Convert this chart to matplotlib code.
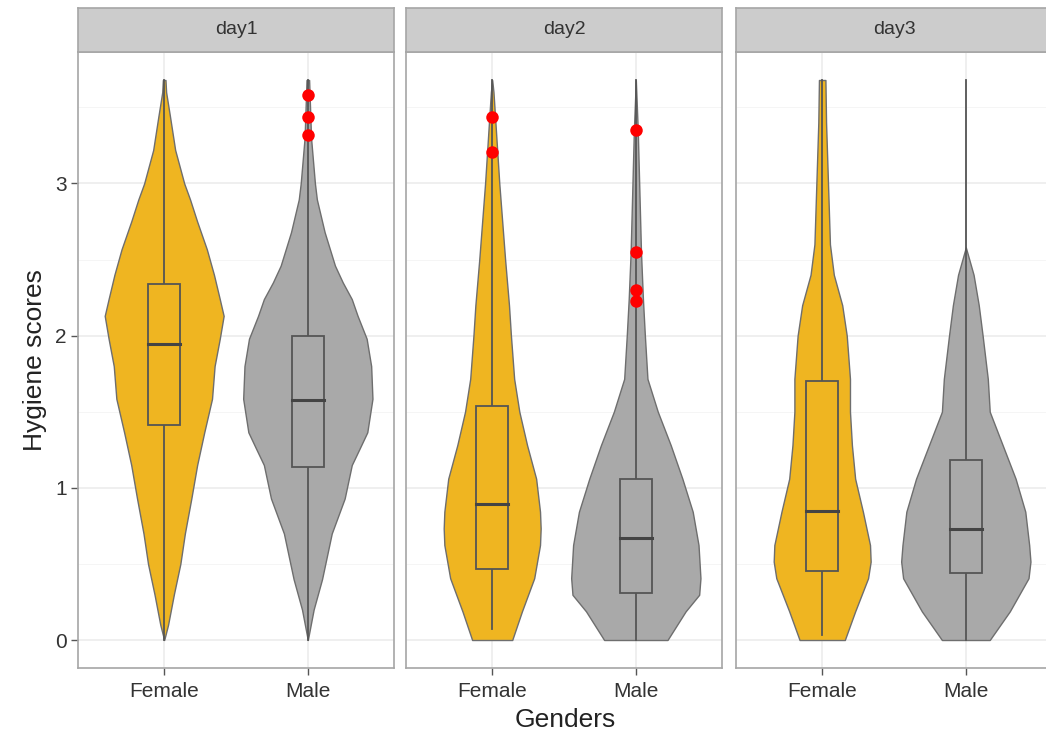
import numpy as np
import matplotlib.pyplot as plt
from matplotlib.patches import Rectangle

plt.rcParams["font.family"] = ["Liberation Sans", "DejaVu Sans"]

days = ["day1", "day2", "day3"]
genders = ["Female", "Male"]
fill_colors = ["#EFB521", "#A9A9A9"]

# violin outlines: score level and relative density (widest = 1)
d1_female_y = [0, 0.1, 0.3, 0.5, 0.7, 0.93, 1.15, 1.365, 1.585, 1.8, 1.98, 2.13, 2.24, 2.4, 2.567, 2.75, 2.895, 3.0, 3.22, 3.44, 3.6, 3.68]
d1_female_d = [0, .06, .15, .25, .32, .42, .51, .62, .74, .78, .86, .92, .86, .77, .66, .51, .40, .31, .17, .09, .03, .02]
d1_male_y = [0, 0.2, 0.4, 0.7, 0.93, 1.15, 1.257, 1.365, 1.585, 1.8, 1.98, 2.13, 2.24, 2.35, 2.46, 2.68, 2.895, 3.0, 3.3, 3.68]
d1_male_d = [0, .09, .22, .37, .57, .68, .80, .92, 1.0, .98, .91, .77, .68, .54, .42, .26, .14, .11, .05, .02]
d2_female_y = [0, 0.188, 0.406, 0.624, 0.733, 0.843, 1.06, 1.28, 1.5, 1.716, 2.0, 2.2, 2.5, 3.0, 3.2, 3.6, 3.68]
d2_female_d = [.31, .46, .65, .74, .75, .74, .68, .54, .42, .34, .29, .26, .20, .11, .08, .02, 0]
d2_male_y = [0, 0.188, 0.297, 0.406, 0.624, 0.843, 1.06, 1.28, 1.5, 1.716, 2.0, 2.24, 2.55, 3.35, 3.68]
d2_male_d = [.49, .77, .98, 1.0, .97, .88, .72, .54, .34, .18, .14, .11, .08, .03, 0]
d3_female_y = [0, 0.188, 0.406, 0.515, 0.624, 0.843, 1.06, 1.28, 1.5, 1.716, 2.0, 2.2, 2.4, 2.6, 3.0, 3.4, 3.68]
d3_female_d = [.35, .51, .71, .75, .74, .63, .51, .46, .43, .43, .38, .31, .18, .12, .09, .06, .05]
d3_male_y = [0, 0.188, 0.406, 0.515, 0.624, 0.843, 1.06, 1.28, 1.5, 1.716, 2.0, 2.2, 2.4, 2.58]
d3_male_d = [.37, .68, .97, 1.0, .98, .92, .77, .57, .37, .34, .26, .20, .12, 0]

# boxplot stats: lower whisker, q1, median, q3, upper whisker
d1_box = [[0.0, 1.41, 1.945, 2.34, 3.68], [0.0, 1.14, 1.58, 2.0, 3.68]]
d2_box = [[0.07, 0.467, 0.893, 1.535, 3.68], [0.0, 0.312, 0.672, 1.055, 3.68]]
d3_box = [[0.03, 0.456, 0.847, 1.70, 3.68], [0.0, 0.44, 0.73, 1.18, 3.68]]

# outliers
d1_out = [[], [3.58, 3.44, 3.32]]
d2_out = [[3.44, 3.21], [3.35, 2.55, 2.30, 2.23]]
d3_out = [[], []]

violins = [
    [(d1_female_y, d1_female_d), (d1_male_y, d1_male_d)],
    [(d2_female_y, d2_female_d), (d2_male_y, d2_male_d)],
    [(d3_female_y, d3_female_d), (d3_male_y, d3_male_d)],
]
boxes = [d1_box, d2_box, d3_box]
outliers = [d1_out, d2_out, d3_out]

W, H = 1046, 737
fig = plt.figure(figsize=(W / 100, H / 100), dpi=100)

panel_left = [78, 406, 736]
panel_w = 316
top, bottom, strip_top = 52, 668, 8
border = "#A6A6A6"
violin_w = 0.45   # half width of the widest violin
box_w = 0.11

for i, day in enumerate(days):
    ax = fig.add_axes([panel_left[i] / W, (H - bottom) / H, panel_w / W, (bottom - top) / H])
    ax.set_xlim(0.4, 2.6)
    ax.set_ylim(-0.184, 3.864)
    ax.set_yticks([0, 1, 2, 3])
    ax.set_yticks([0.5, 1.5, 2.5, 3.5], minor=True)
    ax.set_xticks([1, 2])
    ax.set_xticklabels(genders)
    ax.grid(True, which="major", color="#EBEBEB", linewidth=1.1)
    ax.grid(True, which="minor", axis="y", color="#F4F4F4", linewidth=0.6)
    ax.set_axisbelow(True)
    for s in ax.spines.values():
        s.set_color(border)
        s.set_linewidth(1.2)
    ax.tick_params(axis="x", which="major", length=5, color="#555555", width=1,
                   labelsize=15, labelcolor="#333333", pad=5)
    ax.tick_params(axis="y", which="minor", length=0)
    if i == 0:
        ax.tick_params(axis="y", which="major", length=5, color="#555555", width=1,
                       labelsize=15, labelcolor="#333333", pad=3)
    else:
        ax.tick_params(axis="y", which="major", length=0, labelleft=False)

    for j in range(2):
        vy, vd = violins[i][j]
        vy = np.array(vy)
        hw = np.array(vd) * violin_w
        x0 = j + 1
        ax.fill_betweenx(vy, x0 - hw, x0 + hw, facecolor=fill_colors[j],
                         edgecolor="#6E6E6E", linewidth=1.0, zorder=2)
        lo, q1, med, q3, hi = boxes[i][j]
        ax.plot([x0, x0], [lo, q1], color="#555555", linewidth=1.3, zorder=3)
        ax.plot([x0, x0], [q3, hi], color="#555555", linewidth=1.3, zorder=3)
        ax.add_patch(Rectangle((x0 - box_w, q1), 2 * box_w, q3 - q1,
                               facecolor=fill_colors[j], edgecolor="#555555",
                               linewidth=1.3, zorder=3))
        ax.plot([x0 - box_w, x0 + box_w], [med, med], color="#444444", linewidth=2.2, zorder=4)
        if outliers[i][j]:
            ax.plot([x0] * len(outliers[i][j]), outliers[i][j], "o", color="#FF0000",
                    markersize=9, markeredgewidth=0, zorder=5)

    # facet strip
    sax = fig.add_axes([panel_left[i] / W, (H - top) / H, panel_w / W, (top - strip_top) / H])
    sax.set_facecolor("#CCCCCC")
    sax.set_xticks([])
    sax.set_yticks([])
    for s in sax.spines.values():
        s.set_color(border)
        s.set_linewidth(1.2)
    sax.text(0.5, 0.5, day, ha="center", va="center", fontsize=14,
             color="#333333", transform=sax.transAxes)

fig.text(565 / W, 1 - 720 / H, "Genders", ha="center", va="center", fontsize=19, color="#222222")
fig.text(35 / W, 1 - 360 / H, "Hygiene scores", ha="center", va="center", rotation=90,
         fontsize=19, color="#222222")

fig.savefig("out.png", dpi=100)
